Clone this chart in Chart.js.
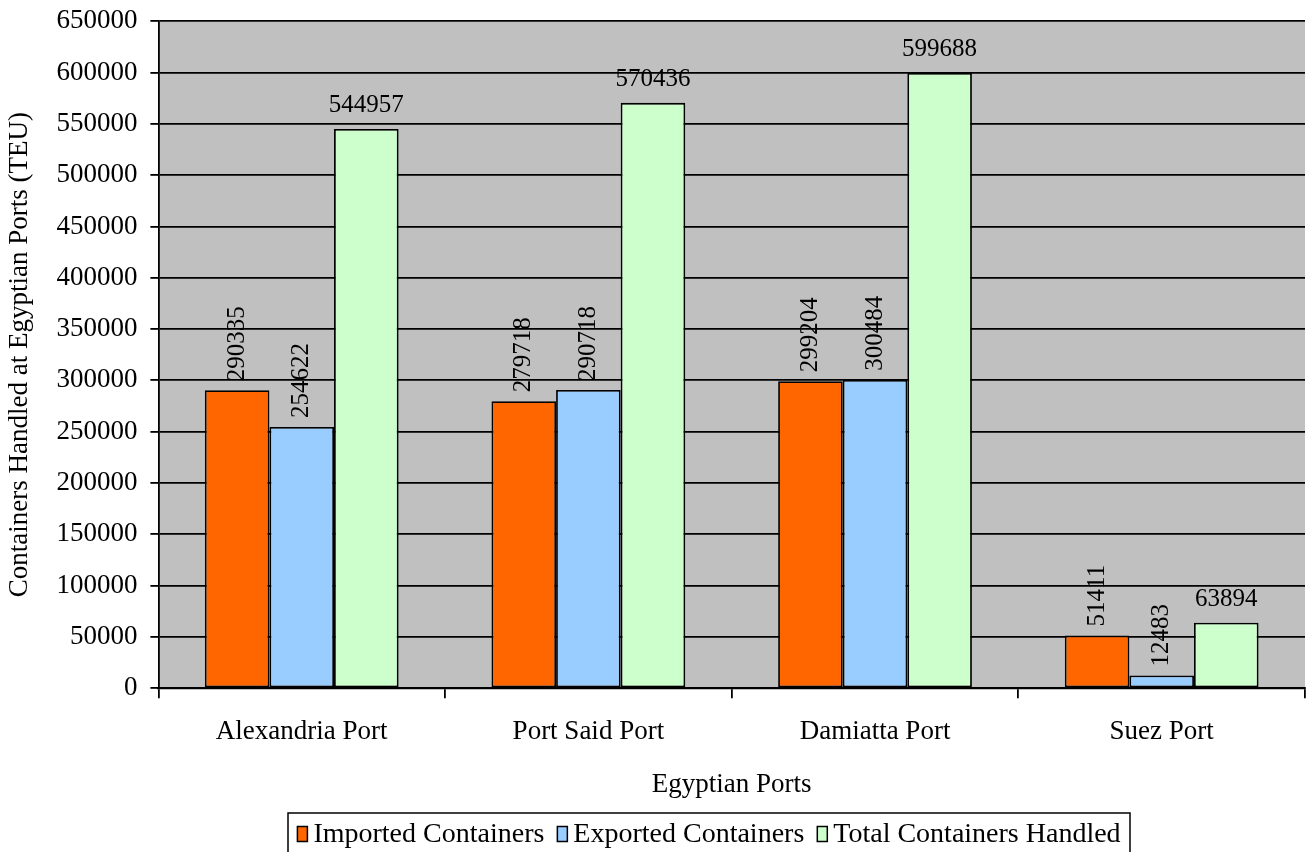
<!DOCTYPE html>
<html lang="en">
<head>
    <meta charset="UTF-8">
    <title>Containers Handled at Egyptian Ports</title>
    <style>
        html, body { margin: 0; padding: 0; background: #fff; overflow: hidden; }
        /* chart.js keeps room for half a tick label above the plot; shift it up */
        canvas { display: block; margin-top: -8px; }
    </style>
</head>
<body>
    <canvas id="barChart" width="1308" height="860"></canvas>
    <script src="https://cdn.jsdelivr.net/npm/chart.js"></script>
    <script>
        // Data
        const ports = ['Alexandria Port', 'Port Said Port', 'Damiatta Port', 'Suez Port'];
        const imported = [290335, 279718, 299204, 51411];
        const exported = [254622, 290718, 300484, 12483];
        const totalHandled = [544957, 570436, 599688, 63894];

        const FONT = '"Liberation Serif", "Times New Roman", serif';
        const FONT_SIZE = 27;
        const LABEL_SIZE = 25;
        const LEGEND_SIZE = 28;

        // Grey plot background
        const plotBackground = {
            id: 'plotBackground',
            beforeDraw(chart) {
                const { ctx, chartArea } = chart;
                ctx.save();
                ctx.fillStyle = '#c0c0c0';
                ctx.fillRect(chartArea.left, chartArea.top, chartArea.right - chartArea.left, chartArea.bottom - chartArea.top);
                ctx.restore();
            }
        };

        // Value labels above each bar (first two series rotated)
        const valueLabels = {
            id: 'valueLabels',
            afterDatasetsDraw(chart) {
                const ctx = chart.ctx;
                ctx.save();
                ctx.font = LABEL_SIZE + 'px ' + FONT;
                ctx.fillStyle = '#000';
                chart.data.datasets.forEach((ds, i) => {
                    const meta = chart.getDatasetMeta(i);
                    meta.data.forEach((bar, j) => {
                        const text = String(ds.data[j]);
                        if (i < 2) {
                            ctx.save();
                            ctx.translate(bar.x, bar.y - 9);
                            ctx.rotate(-Math.PI / 2);
                            ctx.textAlign = 'left';
                            ctx.textBaseline = 'middle';
                            ctx.fillText(text, 0, 0);
                            ctx.restore();
                        } else {
                            ctx.textAlign = 'center';
                            ctx.textBaseline = 'alphabetic';
                            ctx.fillText(text, bar.x, bar.y - 17);
                        }
                    });
                });
                ctx.restore();
            }
        };

        // Framed legend at the bottom, cut by the lower edge like the original
        const framedLegend = {
            id: 'framedLegend',
            afterDraw(chart) {
                const ctx = chart.ctx;
                const frameLeft = 288, frameRight = 1130, frameTop = 821, midY = 842;
                const boxW = 10, boxH = 15, gapText = 6, gapItem = 13;
                ctx.save();
                ctx.font = LEGEND_SIZE + 'px ' + FONT;
                const items = chart.data.datasets.map(ds => ({
                    label: ds.label,
                    color: ds.backgroundColor,
                    width: ctx.measureText(ds.label).width
                }));
                let total = 0;
                items.forEach((it, k) => {
                    total += boxW + gapText + it.width + (k < items.length - 1 ? gapItem : 0);
                });
                let x = (frameLeft + frameRight) / 2 - total / 2;
                ctx.strokeStyle = '#000';
                ctx.lineWidth = 1.5;
                ctx.strokeRect(frameLeft, frameTop, frameRight - frameLeft, 60);
                ctx.textAlign = 'left';
                ctx.textBaseline = 'middle';
                items.forEach(it => {
                    ctx.fillStyle = it.color;
                    ctx.fillRect(x, midY - boxH / 2, boxW, boxH);
                    ctx.lineWidth = 1.5;
                    ctx.strokeRect(x, midY - boxH / 2, boxW, boxH);
                    x += boxW + gapText;
                    ctx.fillStyle = '#000';
                    ctx.fillText(it.label, x, midY + 1);
                    x += it.width + gapItem;
                });
                ctx.restore();
            }
        };

        const ctx = document.getElementById('barChart').getContext('2d');
        new Chart(ctx, {
            type: 'bar',
            data: {
                labels: ports,
                datasets: [
                    { label: 'Imported Containers', data: imported, backgroundColor: '#ff6600' },
                    { label: 'Exported Containers', data: exported, backgroundColor: '#99ccff' },
                    { label: 'Total Containers Handled', data: totalHandled, backgroundColor: '#ccffcc' }
                ].map(ds => Object.assign(ds, {
                    borderColor: '#000',
                    borderWidth: 1.8,
                    borderSkipped: false,
                    categoryPercentage: 0.676,
                    barPercentage: 1.0
                }))
            },
            options: {
                responsive: false,
                animation: false,
                layout: { padding: { left: 0, right: 3, top: 0, bottom: 46 } },
                plugins: {
                    tooltip: { enabled: false },
                    legend: { display: false }
                },
                scales: {
                    x: {
                        grid: {
                            offset: true,
                            drawOnChartArea: false,
                            color: '#000',
                            lineWidth: 1.8,
                            tickLength: 10
                        },
                        border: { color: '#000', width: 2.2 },
                        ticks: { color: '#000', font: { family: FONT, size: FONT_SIZE }, padding: 18 },
                        title: {
                            display: true,
                            text: 'Egyptian Ports',
                            color: '#000',
                            font: { family: FONT, size: FONT_SIZE },
                            padding: { top: 2, bottom: 5 }
                        }
                    },
                    y: {
                        min: 0,
                        max: 650000,
                        ticks: {
                            stepSize: 50000,
                            color: '#000',
                            font: { family: FONT, size: FONT_SIZE },
                            padding: 13,
                            callback: value => String(value)
                        },
                        grid: { color: '#000', lineWidth: 1.8, tickLength: 8 },
                        border: { color: '#000', width: 1.8 },
                        title: {
                            display: true,
                            text: 'Containers Handled at Egyptian Ports (TEU)',
                            color: '#000',
                            font: { family: FONT, size: FONT_SIZE },
                            padding: { top: 4, bottom: 7 }
                        }
                    }
                }
            },
            plugins: [plotBackground, valueLabels, framedLegend]
        });
    </script>
</body>
</html>
